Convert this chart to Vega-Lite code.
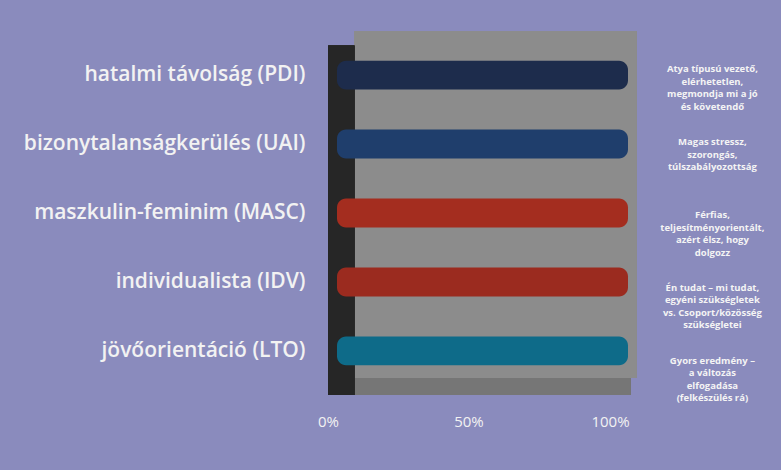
{
  "$schema": "https://vega.github.io/schema/vega-lite/v6.json",
  "autosize": {"type": "none"},
  "width": 291,
  "height": 364,
  "padding": {"left": 337, "top": 31, "right": 153, "bottom": 75},
  "background": "#8a8bbd",
  "config": {"view": {"stroke": null}, "font": "Open Sans"},
  "data": {"values": [
    {"dim": "hatalmi távolság (PDI)", "value": 100, "group": "PDI", "note": "Atya típusú vezető,\nelérhetetlen,\nmegmondja mi a jó\nés követendő"},
    {"dim": "bizonytalanságkerülés (UAI)", "value": 100, "group": "UAI", "note": "Magas stressz,\nszorongás,\ntúlszabályozottság"},
    {"dim": "maszkulin-feminim (MASC)", "value": 100, "group": "MASC", "note": "Férfias,\nteljesítményorientált,\nazért élsz, hogy\ndolgozz"},
    {"dim": "individualista (IDV)", "value": 100, "group": "IDV", "note": "Én tudat – mi tudat,\negyéni szükségletek\nvs. Csoport/közösség\nszükségletei"},
    {"dim": "jövőorientáció (LTO)", "value": 100, "group": "LTO", "note": "Gyors eredmény –\na változás\nelfogadása\n(felkészülés rá)"}
  ]},
  "resolve": {"scale": {"y": "independent"}},
  "layer": [
    {
      "mark": {"type": "rect", "color": "#8c8c8c"},
      "encoding": {
        "x": {"datum": 6, "type": "quantitative", "scale": {"domain": [0, 100], "nice": false, "zero": false},
          "axis": {"title": null, "values": [0, 50, 100], "format": ".0f", "labelExpr": "datum.label + '%'", "domain": false, "ticks": false, "grid": false, "labelFlush": false, "labelPadding": 19,
            "labelOffset": {"condition": [{"test": "datum.value == 0", "value": -9}, {"test": "datum.value == 50", "value": -14}], "value": -18},
            "labelFontSize": 15, "labelColor": "#f2f2f2", "labelFont": "Open Sans"}},
        "x2": {"datum": 103},
        "y": {"datum": 4.7, "type": "quantitative", "scale": {"domain": [0, 100], "nice": false}, "axis": null},
        "y2": {"datum": 100}
      }
    },
    {
      "mark": {"type": "rect", "color": "#767676"},
      "encoding": {
        "x": {"datum": -3, "type": "quantitative", "scale": {"domain": [0, 100], "nice": false, "zero": false}},
        "x2": {"datum": 101},
        "y": {"datum": 0, "type": "quantitative", "scale": {"domain": [0, 100], "nice": false}, "axis": null},
        "y2": {"datum": 4.7}
      }
    },
    {
      "mark": {"type": "rect", "color": "#262626"},
      "encoding": {
        "x": {"datum": -3, "type": "quantitative", "scale": {"domain": [0, 100], "nice": false, "zero": false}},
        "x2": {"datum": 6},
        "y": {"datum": 0, "type": "quantitative", "scale": {"domain": [0, 100], "nice": false}, "axis": null},
        "y2": {"datum": 96}
      }
    },
    {
      "mark": {"type": "bar", "cornerRadius": 9},
      "encoding": {
        "y": {"field": "dim", "type": "nominal", "sort": null,
          "scale": {"paddingInner": 0.58, "paddingOuter": 0.43},
          "axis": {"title": null, "domain": false, "ticks": false, "labelPadding": 32, "labelLimit": 400, "labelFontSize": 21, "labelColor": "#f2f2f2", "labelFont": "Open Sans", "labelFontWeight": 600}},
        "x": {"field": "value", "type": "quantitative", "scale": {"domain": [0, 100], "nice": false, "zero": false}},
        "x2": {"datum": 0},
        "color": {"field": "group", "type": "nominal", "legend": null,
          "scale": {"domain": ["PDI", "UAI", "MASC", "IDV", "LTO"], "range": ["#1d2c4c", "#1f3e6c", "#a42d1f", "#9b2b1f", "#0e6b89"]}}
      }
    },
    {
      "mark": {"type": "text", "lineBreak": "\n", "fontSize": 9.5, "fontWeight": "bold", "color": "#f4f4f4", "align": "center", "baseline": "middle", "lineHeight": 12.5, "dy": 2, "font": "Open Sans"},
      "encoding": {
        "y": {"field": "dim", "type": "nominal", "sort": null, "scale": {"paddingInner": 0.58, "paddingOuter": 0.43}, "axis": null},
        "x": {"datum": 129, "type": "quantitative", "scale": {"domain": [0, 100], "nice": false, "zero": false}},
        "text": {"field": "note"}
      }
    }
  ]
}
